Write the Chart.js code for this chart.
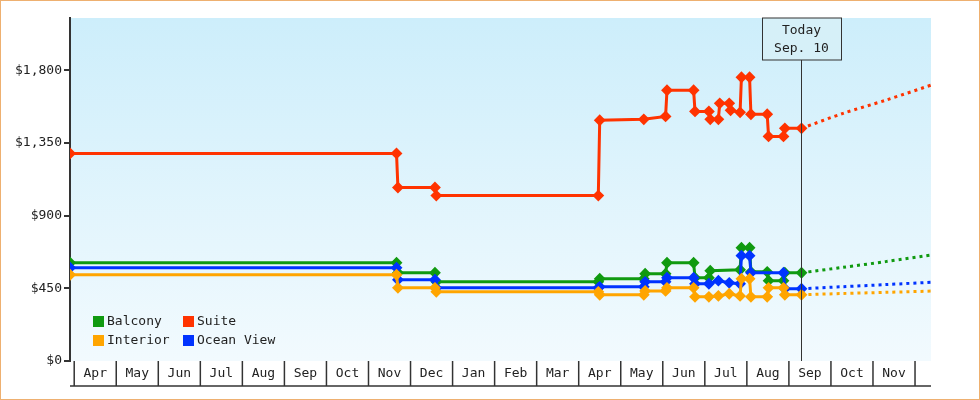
<!DOCTYPE html>
<html>
<head>
<meta charset="utf-8">
<script src="https://cdn.jsdelivr.net/npm/chart.js@4"></script>
<style>
html, body { margin: 0; padding: 0; background: #fff; }
#wrap { width: 978px; height: 398px; border: 1px solid #eeb070; position: relative; }
</style>
</head>
<body>
<div id="wrap"><canvas id="fare-chart" width="978" height="398"></canvas></div>
<script>
var monthLabels = ['Apr','May','Jun','Jul','Aug','Sep','Oct','Nov','Dec','Jan','Feb','Mar','Apr','May','Jun','Jul','Aug','Sep','Oct','Nov'];
var yTicks = [0, 450, 900, 1350, 1800];

var suiteDates = ['2023-03-29','2023-11-21','2023-11-22','2023-12-19','2023-12-20','2024-04-15','2024-04-16','2024-05-18','2024-06-03','2024-06-04','2024-06-23','2024-06-24','2024-07-04','2024-07-05','2024-07-11','2024-07-12','2024-07-19','2024-07-20','2024-07-27','2024-07-28','2024-08-03','2024-08-04','2024-08-16','2024-08-17','2024-08-28','2024-08-29','2024-09-10'];
var suiteVals  = [1285,1285,1074,1074,1024,1024,1490,1496,1514,1676,1676,1545,1545,1496,1496,1595,1595,1552,1539,1756,1756,1527,1527,1390,1390,1440,1440];
var balconyDates = ['2023-03-29','2023-11-21','2023-11-22','2023-12-19','2023-12-20','2024-04-15','2024-04-16','2024-05-18','2024-05-19','2024-06-03','2024-06-04','2024-06-23','2024-06-24','2024-07-04','2024-07-05','2024-07-27','2024-07-28','2024-08-03','2024-08-04','2024-08-16','2024-08-17','2024-08-28','2024-08-29','2024-09-10'];
var balconyVals  = [608,608,546,546,490,490,509,509,540,540,608,608,515,515,559,565,701,701,552,552,497,497,546,546];
var oceanDates = ['2023-03-29','2023-11-21','2023-11-22','2023-12-19','2023-12-20','2024-04-15','2024-04-16','2024-05-18','2024-05-19','2024-06-03','2024-06-04','2024-06-23','2024-06-24','2024-07-04','2024-07-11','2024-07-19','2024-07-27','2024-07-28','2024-08-03','2024-08-04','2024-08-28','2024-08-29','2024-09-10'];
var oceanVals  = [577,577,503,503,453,453,459,459,490,490,515,515,478,478,497,484,478,652,652,546,546,447,447];
var interiorDates = ['2023-03-29','2023-11-21','2023-11-22','2023-12-19','2023-12-20','2024-04-15','2024-04-16','2024-05-18','2024-05-19','2024-06-03','2024-06-04','2024-06-23','2024-06-24','2024-07-04','2024-07-11','2024-07-19','2024-07-27','2024-07-28','2024-08-03','2024-08-04','2024-08-16','2024-08-17','2024-08-28','2024-08-29','2024-09-10'];
var interiorVals  = [534,534,453,453,428,428,410,410,434,434,453,453,397,397,403,416,403,509,509,397,397,453,453,410,410];

var projDates = ['2024-09-10','2024-10-10','2024-11-10','2024-12-19'];
var suiteProj = [1440,1533,1614,1725];
var balconyProj = [546,580,615,664];
var oceanProj = [447,460,473,490];
var interiorProj = [410,418,425,434];

var todayDate = '2024-09-10';

// date -> fractional month index, 0 = Apr 1 2023
function mIdx(s) {
    var p = s.split('-'), y = +p[0], m = +p[1], d = +p[2];
    var dim = new Date(y, m, 0).getDate();
    return (y - 2023) * 12 + (m - 4) + (d - 1) / dim;
}
function pts(dates, vals) {
    return dates.map(function(d, i) { return { x: mIdx(d), y: vals[i] }; });
}

var FONT = '"DejaVu Sans Mono", monospace';
var C = { balcony: '#109a10', suite: '#ff3300', interior: '#ffa500', ocean: '#0033ff' };

function solid(label, color, data) {
    return { label: label, data: data, borderColor: color, backgroundColor: color, borderWidth: 3,
        pointStyle: 'rectRot', pointRadius: 3.8, pointHoverRadius: 3.8, tension: 0 };
}
function proj(color, data) {
    return { data: data, borderColor: color, borderWidth: 3, borderDash: [3, 4], pointRadius: 0, tension: 0.3, fill: false };
}

var decor = {
    id: 'decor',
    beforeDraw: function(chart) {
        var a = chart.chartArea, c = chart.ctx;
        var g = c.createLinearGradient(0, a.top, 0, a.bottom);
        g.addColorStop(0, '#cdeefb');
        g.addColorStop(1, '#f2fafe');
        c.fillStyle = g;
        c.fillRect(a.left, a.top, a.right - a.left, a.bottom - a.top);
    },
    afterDraw: function(chart) {
        var a = chart.chartArea, c = chart.ctx, xs = chart.scales.x;
        c.save();
        // month cells
        c.strokeStyle = '#333'; c.lineWidth = 1.5;
        c.fillStyle = '#222'; c.font = '13px ' + FONT; c.textAlign = 'center'; c.textBaseline = 'middle';
        c.beginPath(); c.moveTo(a.left, a.bottom + 25); c.lineTo(a.right, a.bottom + 25); c.stroke();
        for (var i = 0; i <= monthLabels.length; i++) {
            var px = xs.getPixelForValue(i);
            if (px > a.right) break;
            c.beginPath(); c.moveTo(px, a.bottom); c.lineTo(px, a.bottom + 25); c.stroke();
            if (i < monthLabels.length) {
                var nx = Math.min(xs.getPixelForValue(i + 1), a.right + 20);
                c.fillText(monthLabels[i], (px + nx) / 2, a.bottom + 13);
            }
        }
        // today marker
        var tx = Math.round(xs.getPixelForValue(mIdx(todayDate))) - 0.5;
        c.lineWidth = 1; c.strokeStyle = '#333';
        c.beginPath(); c.moveTo(tx, a.top + 42); c.lineTo(tx, a.bottom); c.stroke();
        c.fillStyle = '#d6f0f8';
        c.fillRect(tx - 39, a.top, 79, 42);
        c.strokeRect(tx - 39, a.top, 79, 42);
        c.fillStyle = '#222';
        c.fillText('Today', tx, a.top + 13);
        c.fillText('Sep. 10', tx, a.top + 31);
        // legend
        var items = [['Balcony', C.balcony, 0, 0], ['Suite', C.suite, 1, 0], ['Interior', C.interior, 0, 1], ['Ocean View', C.ocean, 1, 1]];
        c.textAlign = 'left';
        items.forEach(function(it) {
            var lx = a.left + 23 + it[2] * 90, ly = a.top + 303 + it[3] * 19;
            c.fillStyle = it[1]; c.fillRect(lx, ly - 5, 11, 11);
            c.fillStyle = '#222'; c.fillText(it[0], lx + 14, ly + 1);
        });
        c.restore();
    }
};

new Chart(document.getElementById('fare-chart').getContext('2d'), {
    type: 'line',
    data: {
        datasets: [
            proj(C.suite, pts(projDates, suiteProj)),
            proj(C.balcony, pts(projDates, balconyProj)),
            proj(C.ocean, pts(projDates, oceanProj)),
            proj(C.interior, pts(projDates, interiorProj)),
            solid('Interior', C.interior, pts(interiorDates, interiorVals)),
            solid('Ocean View', C.ocean, pts(oceanDates, oceanVals)),
            solid('Balcony', C.balcony, pts(balconyDates, balconyVals)),
            solid('Suite', C.suite, pts(suiteDates, suiteVals))
        ]
    },
    options: {
        responsive: false,
        animation: false,
        layout: { padding: { top: 17, right: 48, bottom: 38, left: 0 } },
        plugins: { legend: { display: false }, tooltip: { enabled: false } },
        scales: {
            x: { type: 'linear', min: -0.1, max: 20.38, display: false },
            y: {
                min: 0, max: 2123,
                afterFit: function(s) { s.width = 69; },
                afterBuildTicks: function(s) { s.ticks = yTicks.map(function(v) { return { value: v }; }); },
                border: { display: true, color: '#333', width: 2 },
                grid: { drawOnChartArea: false, color: '#333', tickLength: 6, lineWidth: 2 },
                ticks: {
                    color: '#222', font: { family: FONT, size: 13 }, padding: 2,
                    callback: function(v) { return '$' + v.toLocaleString('en-US'); }
                }
            }
        }
    },
    plugins: [decor]
});
</script>
</body>
</html>
